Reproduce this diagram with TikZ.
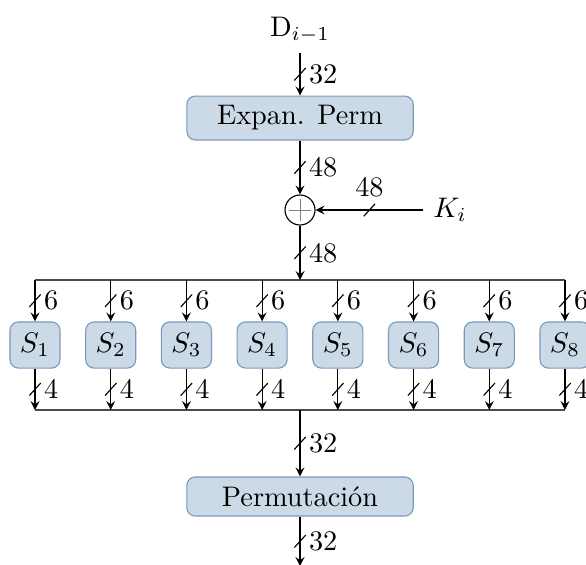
\documentclass[tikz,border=0pt]{standalone}
\usepackage{amsmath,amssymb}
\usepackage{tikz}

\definecolor{boxfill}{RGB}{204,218,232}
\definecolor{boxline}{RGB}{122,154,190}

\tikzset{
  block/.style={draw=boxline, fill=boxfill, rounded corners=3pt, minimum width=80pt},
  sbox/.style={draw=boxline, fill=boxfill, rounded corners=3pt, minimum width=17.7pt, minimum height=16.3pt, inner sep=1pt},
  bus/.style={draw=black!70},
  lbl/.style={anchor=west, inner sep=0pt, xshift=3pt},
  tick/.pic={\draw (-2pt,-2.2pt) -- (2pt,2.2pt);}
}

\begin{document}
\begin{tikzpicture}[>=stealth, x=0.3534pt, y=-0.3534pt]
    \useasboundingbox (0,0) rectangle (586,564);

    \node (d) at (300,30) {D$_{i-1}$};
    \node[block, minimum height=15.5pt] (ep) at (300,118) {Expan. Perm};
    \node[circle, draw, minimum size=10.6pt, inner sep=0pt] (xor) at (300,210) {};
    \draw[gray, very thin] ([xshift=-3.9pt]xor.center) -- ([xshift=3.9pt]xor.center);
    \draw[gray, very thin] ([yshift=-3.9pt]xor.center) -- ([yshift=3.9pt]xor.center);
    \node (k) at (450,210) {$K_i$};
    \coordinate (top) at (300,280);
    \coordinate (bot) at (300,410);
    \node[block, minimum height=13.8pt] (perm) at (300,496.5) {Permutación};
    \coordinate (out) at (300,566);

    % S-boxes
    \foreach \i in {1,...,8}
        \node[sbox] (s\i) at ({35+(\i-1)*75.71},345) {$S_{\i}$};

    % buses
    \draw[bus] (s1 |- top) -- (s8 |- top);
    \draw[bus] (s1 |- bot) -- (s8 |- bot);

    \foreach \i in {1,...,8} {
        \draw[->] (s\i |- top) -- coordinate[midway] (a\i) (s\i.north);
        \pic at (a\i) {tick};
        \node[lbl] at (a\i) {6};
        \draw[->] (s\i.south) -- coordinate[midway] (b\i) (s\i |- bot);
        \pic at (b\i) {tick};
        \node[lbl] at (b\i) {4};
    }

    % main path
    \draw[->] (d.south) -- coordinate[midway] (m1) (ep.north);
    \pic at (m1) {tick};
    \node[lbl] at (m1) {32};

    \draw[->] (ep.south) -- coordinate[midway] (m2) (xor.north);
    \pic at (m2) {tick};
    \node[lbl] at (m2) {48};

    \draw[->] (k.west) -- coordinate[midway] (m3) (xor.east);
    \pic at (m3) {tick};
    \node[anchor=south, inner sep=0pt, yshift=4.2pt] at (m3) {48};

    \draw[->] (xor.south) -- coordinate[midway] (m4) (top);
    \pic at (m4) {tick};
    \node[lbl] at (m4) {48};

    \draw[->] (bot) -- coordinate[midway] (m5) (perm.north);
    \pic at (m5) {tick};
    \node[lbl] at (m5) {32};

    \draw[->] (perm.south) -- coordinate[midway] (m6) (out);
    \pic at (m6) {tick};
    \node[lbl] at (m6) {32};
\end{tikzpicture}
\end{document}
